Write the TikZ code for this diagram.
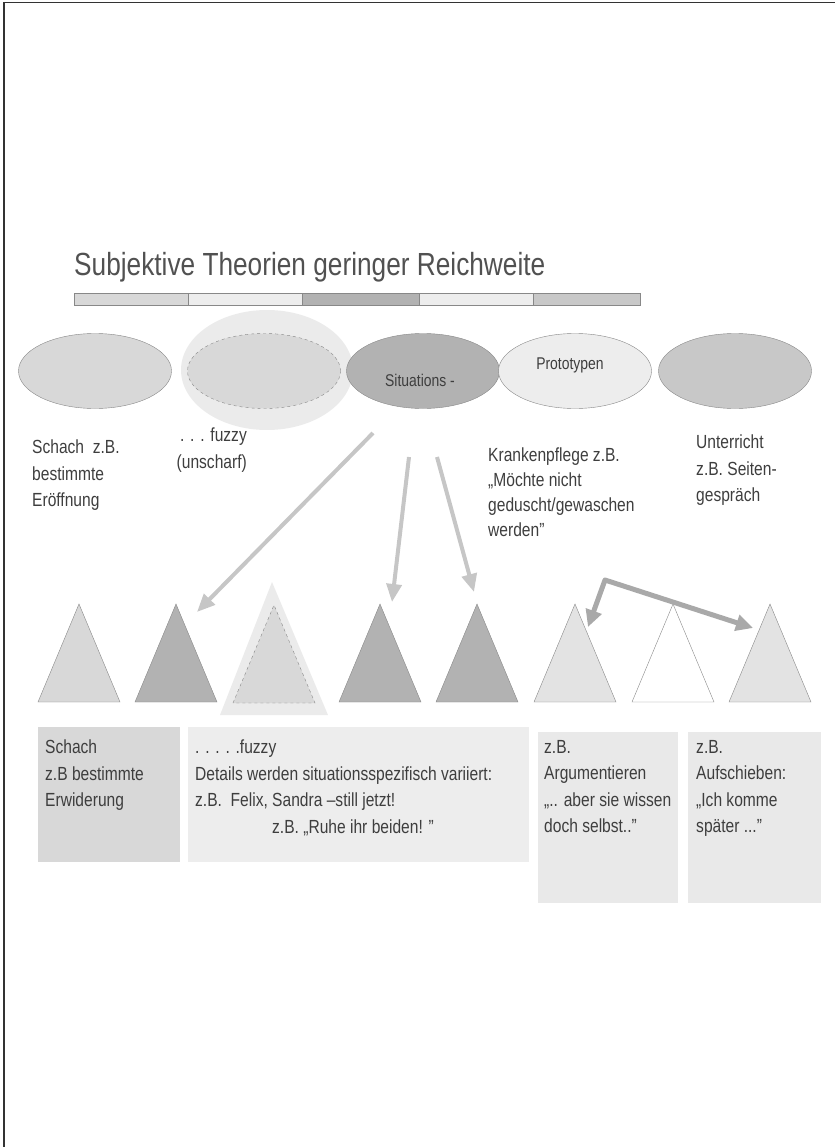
\documentclass[tikz,border=0pt]{standalone}
\usepackage{fontspec}
\setmainfont[FakeStretch=0.82]{Liberation Sans}
\usetikzlibrary{positioning}
\usetikzlibrary{arrows.meta}
\usetikzlibrary{shapes.geometric,calc}

\definecolor{linegray}{HTML}{888888}
\definecolor{textgray}{HTML}{3E3E3E}
\definecolor{halogray}{HTML}{EBEBEB}
\definecolor{fillA}{HTML}{D8D8D8}
\definecolor{fillB}{HTML}{B2B2B2}
\definecolor{fillC}{HTML}{EDEDED}
\definecolor{fillD}{HTML}{C8C8C8}
\definecolor{fillE}{HTML}{E3E3E3}
\definecolor{arrowgray}{HTML}{C6C6C6}
\definecolor{bentgray}{HTML}{A9A9A9}

\tikzset{
  ell/.style={ellipse, draw=linegray, minimum width=153pt, minimum height=75pt, inner sep=0pt},
  txt/.style={anchor=north west, inner sep=0pt, align=left, text=textgray,
    font=\fontsize{19}{26.5}\selectfont},
  infobox/.style={anchor=north west, inner sep=0pt},
  grayarrow/.style={draw=arrowgray, line width=4pt, -{Triangle[length=18pt,width=15pt]}},
  bentarrow/.style={draw=bentgray, line width=5pt, line join=round,
    {Triangle[length=17pt,width=16pt]}-{Triangle[length=17pt,width=16pt]}}
}

\begin{document}
\begin{tikzpicture}[x=1pt,y=-1pt]
\useasboundingbox (0,0) rectangle (835,1147);
\draw[black!80, line width=1.5pt] (4,1147) -- (4,2.5) -- (835,2.5);

% Titel und Balken
\node[anchor=base west, inner sep=0pt, text=textgray!90, font=\fontsize{32}{36}\selectfont]
  (titel) at (74,276) {Subjektive Theorien geringer Reichweite};
\foreach \a/\b/\col in {74/188/fillA, 188/302/fillC, 302/419/fillB, 419/533/fillC, 533/640/fillD}
  \draw[linegray, fill=\col] (\a,293) rectangle (\b,305);

% Ellipsen
\node[ellipse, fill=halogray, minimum width=172pt, minimum height=120pt] (halo) at (267,370) {};
\node[ell, fill=fillA] (eSchach) at (95,371) {};
\node[ell, fill=fillA, dashed] (eFuzzy) at (264,371) {};
\node[ell, fill=fillB] (eSit) at (423,371) {};
\node[ell, fill=fillC] (eProto) at (575,371) {};
\node[ell, fill=fillD] (eUnt) at (735,371) {};
\node[text=textgray, font=\fontsize{17}{20}\selectfont] (sitText) at (420,380) {Situations -};
\node[text=textgray, font=\fontsize{17}{20}\selectfont] (protoText) at (570,365) {Prototypen};

% Texte unter den Ellipsen
\node[txt] (tSchach) at (32,440) {Schach\ \ z.B.\\bestimmte\\Eröffnung};
\node[txt, anchor=north east, align=right] (tFuzzy) at (247,428) {. . . fuzzy\\(unscharf)};
\node[txt, font=\fontsize{19}{25}\selectfont] (tKranken) at (488,448)
  {Krankenpflege z.B.\\„Möchte nicht\\geduscht/gewaschen\\werden"};
\node[txt] (tUnt) at (696,435) {Unterricht\\z.B. Seiten-\\gespräch};

% Dreiecke
\fill[halogray] (220,715) -- (272,582) -- (328,715) -- cycle;
\draw[linegray, fill=fillA, dashed] (233,703) -- (274,605) -- (315,703) -- cycle;
\foreach \x/\col in {79/fillA, 176/fillB, 380/fillB, 477/fillB, 575/fillE, 673/white, 770/fillE}
  \draw[linegray, fill=\col] (\x-41,702) -- (\x,604) -- (\x+41,702) -- cycle;

% Pfeile
\coordinate (vonSit1) at (373,433);
\coordinate (vonSit2) at (409,457);
\coordinate (vonSit3) at (437,457);
\coordinate (zuTri2) at (197,612);
\coordinate (zuTri4) at (392,602);
\coordinate (zuTri5) at (474,592);
\coordinate (knick) at (605,580);
\coordinate (zuTri6) at (588,627);
\coordinate (zuTri8) at (753,628);
\draw[grayarrow] (vonSit1) -- (zuTri2);
\draw[grayarrow] (vonSit2) -- (zuTri4);
\draw[grayarrow] (vonSit3) -- (zuTri5);
\draw[bentarrow] (zuTri6) -- (knick) -- (zuTri8);

% Kaesten
\node[infobox, fill=fillA, minimum width=142pt, minimum height=135pt] (bSchach) at (38,727) {};
\node[infobox, fill=fillC, minimum width=341pt, minimum height=135pt] (bFuzzy) at (188,727) {};
\node[infobox, fill=fillE!80!white, minimum width=140pt, minimum height=171pt] (bArg) at (538,732) {};
\node[infobox, fill=fillE!80!white, minimum width=133pt, minimum height=171pt] (bAuf) at (688,732) {};
\node[txt, below right=13pt and 7pt of bSchach.north west] (tbSchach)
  {Schach\\z.B bestimmte\\Erwiderung};
\node[txt, below right=13pt and 7pt of bFuzzy.north west] (tbFuzzy)
  {. . . . .fuzzy\\Details werden situationsspezifisch variiert:\\z.B.\ \ Felix, Sandra –still jetzt!\\\hspace*{77pt}z.B. „Ruhe ihr beiden! "};
\node[txt, below right=8pt and 6pt of bArg.north west] (tbArg)
  {z.B.\\Argumentieren\\„.. aber sie wissen\\doch selbst.."};
\node[txt, below right=8pt and 8pt of bAuf.north west] (tbAuf)
  {z.B.\\Aufschieben:\\„Ich komme\\später ..."};
\end{tikzpicture}
\end{document}
